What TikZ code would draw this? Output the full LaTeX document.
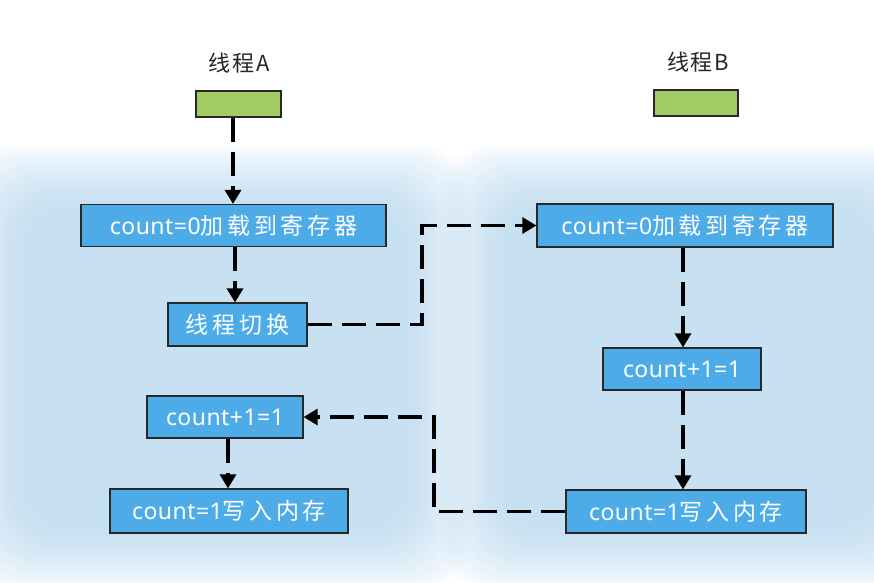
\documentclass[tikz,border=0pt]{standalone}
\usepackage{fontspec}
\setmainfont{Noto Sans}
\newfontfamily\cjkf{Noto Sans CJK SC}[LetterSpace=16]
\newfontfamily\cjkl{Noto Sans CJK SC}[LetterSpace=8]
\newfontfamily\latf{Noto Sans}[LetterSpace=2]
\usetikzlibrary{arrows.meta}
\definecolor{boxblue}{RGB}{77,172,232}
\definecolor{boxgreen}{RGB}{163,203,99}
\definecolor{bgblue}{RGB}{172,212,242}
\definecolor{edgegray}{RGB}{40,40,40}
\begin{document}
\begin{tikzpicture}[x=1pt,y=-1pt,
  bbox/.style={draw=edgegray, line width=1.2pt, fill=boxblue, text=white, inner sep=0pt},
  gbox/.style={draw=edgegray, line width=1.2pt, fill=boxgreen, inner sep=0pt,
     minimum width=85, minimum height=26},
  lbl/.style={text=black!85, font=\cjkl\fontsize{22}{26}\selectfont, inner sep=0pt},
  conn/.style={draw=black, line width=3.2pt, dash pattern=on 24pt off 10pt,
     -{Triangle[width=16pt,length=14pt]}},
  blob/.style={fill=bgblue, opacity=0.06, rounded corners=50pt}
]
\newcommand\lt[1]{{\latf\fontsize{23}{27}\selectfont #1}}
\newcommand\cj[1]{{\cjkf\fontsize{23}{27}\selectfont #1}}
\useasboundingbox (0,0) rectangle (874,582);
\fill[white] (0,0) rectangle (874,582);
% background glow
\foreach \i in {0,...,15}{
  \fill[blob] (-40+\i*4,145+\i*4) rectangle (470-\i*4,590-\i*4);
  \fill[blob] (440+\i*4,145+\i*4) rectangle (940-\i*4,590-\i*4);
}
% labels
\node[lbl] (la) at (239,63) {线程A};
\node[lbl] (lb) at (698,62) {线程B};
% green boxes
\node[gbox] (gA) at (238.5,104) {};
\node[gbox, minimum width=84] (gB) at (696,103) {};
% thread A boxes
\node[bbox, minimum width=305, minimum height=42] (a1) at (233.5,225.5) {\lt{count=0}\cj{加载到寄存器}};
\node[bbox, minimum width=139, minimum height=43] (a2) at (237.5,324.5) {\cj{线程切换}};
\node[bbox, minimum width=156, minimum height=42] (a3) at (225,417) {\lt{count+1=1}};
\node[bbox, minimum width=238, minimum height=44] (a4) at (229,511) {\lt{count=1}\cj{写入内存}};
% thread B boxes
\node[bbox, minimum width=296, minimum height=43] (b1) at (685,225.5) {\lt{count=0}\cj{加载到寄存器}};
\node[bbox, minimum width=158, minimum height=42] (b2) at (682,369) {\lt{count+1=1}};
\node[bbox, minimum width=240, minimum height=43] (b3) at (686,511.5) {\lt{count=1}\cj{写入内存}};
% connectors
\draw[conn] ([xshift=-5.5pt]gA.south) -- ([xshift=-0.5pt]a1.north);
\draw[conn] ([xshift=1.5pt]a1.south) -- ([xshift=-2.5pt]a2.north);
\draw[conn] ([xshift=3pt]a3.south) -- ([xshift=-1pt]a4.north);
\draw[conn] ([xshift=-2pt]b1.south) -- ([xshift=1pt]b2.north);
\draw[conn] ([xshift=1pt]b2.south) -- ([xshift=-3pt]b3.north);
\coordinate (k1) at (422,225.5);
\coordinate (k2) at (434,417);
\draw[conn] (a2.east) -| (k1) -- (b1.west);
\draw[conn] (b3.west) -| (k2) -- (a3.east);
\end{tikzpicture}
\end{document}
